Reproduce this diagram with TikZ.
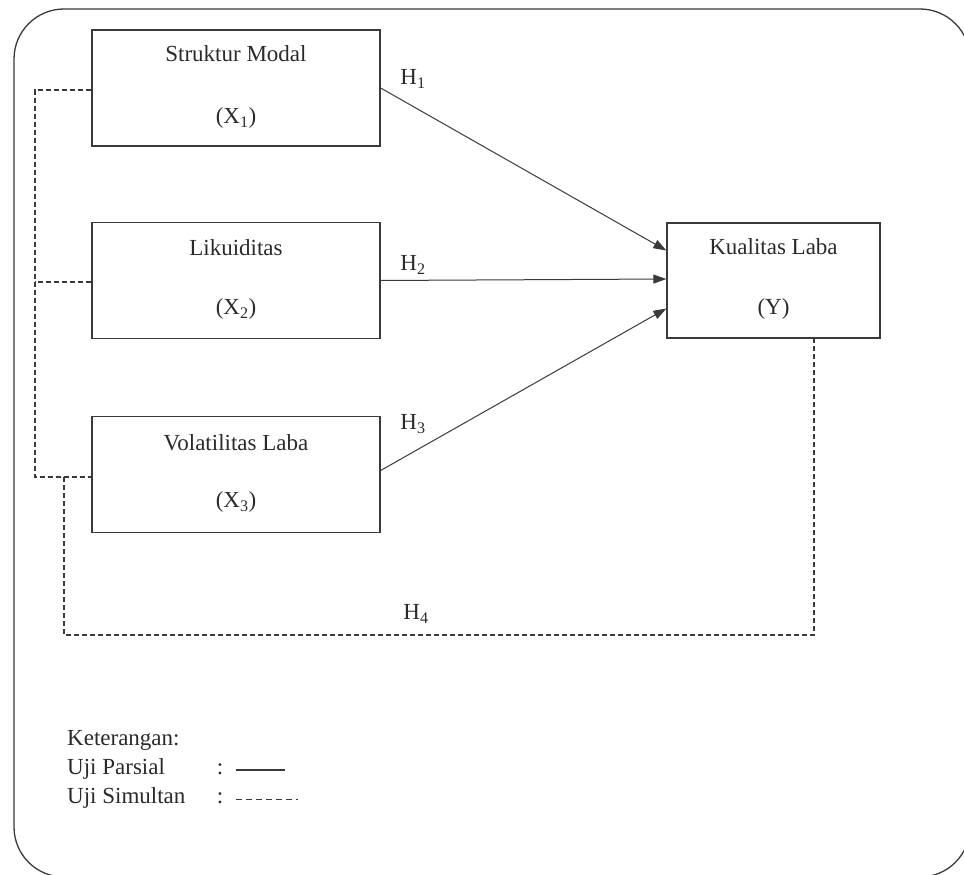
\documentclass[tikz,border=0pt]{standalone}
\usepackage{fontspec}
\setmainfont{Liberation Serif}
\usetikzlibrary{arrows.meta,calc}
\definecolor{ln}{HTML}{3A3A3A}
\definecolor{tx}{HTML}{2A2A2A}
\begin{document}
\begin{tikzpicture}[x=1pt,y=-1pt,
  box/.style={draw=ln,line width=1.3pt,minimum width=288pt,minimum height=116pt,inner sep=0pt},
  lbl/.style={text=tx,font=\fontsize{23}{27}\selectfont,inner sep=0pt,text height=16pt,text depth=5pt},
  arr/.style={draw=ln,line width=1pt,-{Triangle[length=13pt,width=9pt]}},
  dsh/.style={draw=ln,line width=1.2pt,dash pattern=on 5pt off 3pt}]
\useasboundingbox (0,0) rectangle (964,875);
\begin{scope}
\clip (0,0) rectangle (964,875);
\draw[ln,line width=1.3pt,rounded corners=50pt] (14,9) rectangle (970,877);
\end{scope}
% boxes
\node[box] (b1) at (236,88) {};
\node[box] (b2) at (236,280.5) {};
\node[box] (b3) at (236,474.5) {};
\node[box,minimum width=213pt,minimum height=115pt] (y) at (773.5,280.5) {};
% texts
\node[lbl] (t1) at (236,56) {Struktur Modal};
\node[lbl] (s1) at (236,118) {(X\textsubscript{1})};
\node[lbl] (t2) at (236,250) {Likuiditas};
\node[lbl] (s2) at (236,309) {(X\textsubscript{2})};
\node[lbl] (t3) at (236,445) {Volatilitas Laba};
\node[lbl] (s3) at (236,502) {(X\textsubscript{3})};
\node[lbl] (ty) at (773.5,249) {Kualitas Laba};
\node[lbl] (sy) at (773.5,309) {(Y)};
% arrows
\draw[arr] (b1.east) -- ([yshift=30pt]y.west);
\draw[arr] (b2.east) -- ([yshift=1.5pt]y.west);
\draw[arr] ([yshift=4pt]b3.east) -- ([yshift=-28pt]y.west);
\node[lbl] (h1) at (413,79) {H\textsubscript{1}};
\node[lbl] (h2) at (413,265) {H\textsubscript{2}};
\node[lbl] (h3) at (413,424) {H\textsubscript{3}};
\node[lbl] (h4) at (416,614) {H\textsubscript{4}};
% dashed connections
\coordinate (bus) at (35,0);
\coordinate (bus2) at (64,0);
\coordinate (ybus) at (814,0);
\coordinate (bot) at (0,635);
\draw[dsh] ([yshift=-2pt]b1.west) -- ([yshift=-2pt]b1.west -| bus) -- ([yshift=-2.5pt]b3.west -| bus) -- ([yshift=-2.5pt]b3.west);
\draw[dsh] ([yshift=-1.5pt]b2.west) -- ([yshift=-1.5pt]b2.west -| bus);
\draw[dsh] ([yshift=-2.5pt]b3.west -| bus2) -- (bot -| bus2) -- (bot -| ybus) -- (y.south -| ybus);
% legend
\node[lbl,anchor=west] (k) at (67,740) {Keterangan:};
\node[lbl,anchor=west] (p) at (67,769) {Uji Parsial};
\node[lbl,anchor=west] (s) at (67,798) {Uji Simultan};
\node[lbl] (c1) at (220,769) {:};
\node[lbl] (c2) at (220,798) {:};
\coordinate (pl1) at (236,770);
\coordinate (pl2) at (285,770);
\coordinate (dl1) at (236,799);
\coordinate (dl2) at (298,799);
\draw[ln,line width=1.3pt] (pl1) -- (pl2);
\draw[ln,line width=1pt,dash pattern=on 6pt off 4pt] (dl1) -- (dl2);
\end{tikzpicture}
\end{document}
